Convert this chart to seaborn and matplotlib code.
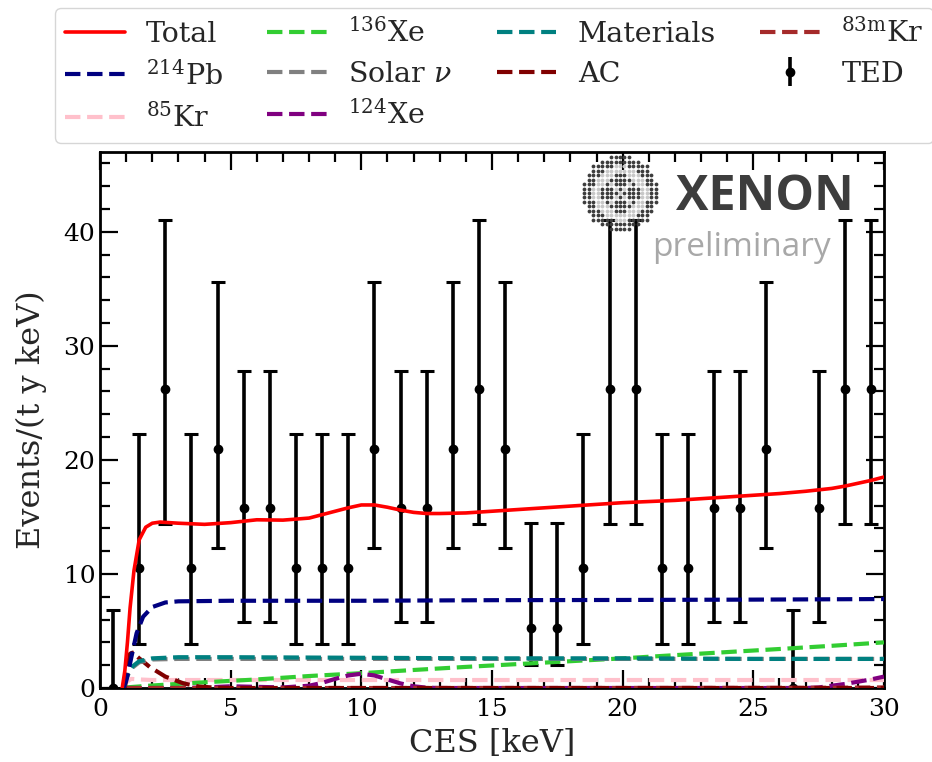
import numpy as np
import pandas as pd
import matplotlib
matplotlib.use("Agg")
import matplotlib.pyplot as plt
from matplotlib.ticker import MultipleLocator
from matplotlib.lines import Line2D
import seaborn as sns

# ---------------- data ----------------
ted_x = [0.5, 1.5, 2.5, 3.5, 4.5, 5.5, 6.5, 7.5, 8.5, 9.5,
         10.5, 11.5, 12.5, 13.5, 14.5, 15.5, 16.5, 17.5, 18.5, 19.5,
         20.5, 21.5, 22.5, 23.5, 24.5, 25.5, 26.5, 27.5, 28.5, 29.5]
ted_y = [0.0, 10.5, 26.25, 10.5, 21.0, 15.75, 15.75, 10.5, 10.5, 10.5,
         21.0, 15.75, 15.75, 21.0, 26.25, 21.0, 5.25, 5.25, 10.5, 26.25,
         26.25, 10.5, 10.5, 15.75, 15.75, 21.0, 0.0, 15.75, 26.25, 26.25]
ted_lo = [0.0, 3.9, 14.4, 3.9, 12.3, 5.8, 5.8, 3.9, 3.9, 3.9,
          12.3, 5.8, 5.8, 12.3, 14.4, 12.3, 2.0, 2.0, 3.9, 14.4,
          14.4, 3.9, 3.9, 5.8, 5.8, 12.3, 0.0, 5.8, 14.4, 14.4]
ted_hi = [6.8, 22.3, 41.0, 22.3, 35.6, 27.8, 27.8, 22.3, 22.3, 22.3,
          35.6, 27.8, 27.8, 35.6, 41.0, 35.6, 14.45, 14.45, 22.3, 41.0,
          41.0, 22.3, 22.3, 27.8, 27.8, 35.6, 6.8, 27.8, 41.0, 41.0]

total_x = [0.85, 0.95, 1.05, 1.15, 1.3, 1.5, 1.75, 2.0, 2.3, 3, 4, 5, 6, 7, 8, 9,
           9.5, 10, 10.5, 11, 11.5, 12, 12.5, 13, 14, 15, 16, 17, 18, 19, 20,
           21, 22, 23, 24, 25, 26, 27, 28, 28.5, 29, 29.5, 30]
total_y = [0.0, 1.5, 4.0, 7.0, 10.3, 13.0, 14.1, 14.45, 14.55, 14.45, 14.35, 14.5,
           14.75, 14.72, 14.9, 15.5, 15.8, 16.05, 16.05, 15.85, 15.6, 15.4, 15.3,
           15.3, 15.35, 15.5, 15.65, 15.8, 15.95, 16.1, 16.25, 16.35, 16.45, 16.6,
           16.75, 16.9, 17.05, 17.25, 17.5, 17.7, 17.95, 18.2, 18.5]

pb214_x = [0.9, 1.0, 1.1, 1.2, 1.4, 1.65, 2.0, 2.5, 3, 5, 10, 15, 20, 25, 30]
pb214_y = [0.0, 0.6, 1.6, 2.7, 4.8, 6.25, 7.1, 7.5, 7.6, 7.65, 7.65, 7.7, 7.72, 7.75, 7.8]

kr85_x = [0.9, 1.0, 1.2, 1.5, 2.0, 3, 10, 20, 30]
kr85_y = [0.0, 0.5, 0.8, 0.75, 0.7, 0.7, 0.7, 0.7, 0.7]

xe136_x = [1.0, 2, 4, 6, 8, 10, 12, 14, 16, 18, 20, 22, 24, 26, 28, 30]
xe136_y = [0.05, 0.22, 0.5, 0.75, 1.05, 1.3, 1.58, 1.85, 2.1, 2.35, 2.6, 2.88,
           3.15, 3.42, 3.7, 4.0]

solar_x = [0.9, 1.0, 1.1, 1.25, 1.5, 2.0, 3, 5, 10, 15, 20, 25, 30]
solar_y = [0.0, 0.7, 1.3, 1.8, 2.25, 2.5, 2.55, 2.55, 2.55, 2.55, 2.55, 2.55, 2.55]

xe124_x = [1, 3, 4, 5, 6, 7, 8, 8.5, 9, 9.5, 10, 10.5, 11, 11.5, 12, 12.5, 13,
           27, 27.5, 28, 28.5, 29, 29.5, 30]
xe124_y = [0.0, 0.0, 0.05, 0.15, 0.1, 0.05, 0.2, 0.45, 0.8, 1.1, 1.25, 1.1, 0.75,
           0.4, 0.15, 0.03, 0.0, 0.0, 0.05, 0.2, 0.35, 0.55, 0.75, 1.0]

mat_x = [0.9, 1.0, 1.1, 1.25, 1.5, 2.0, 3, 5, 10, 15, 20, 25, 30]
mat_y = [0.0, 0.8, 1.4, 1.9, 2.35, 2.6, 2.7, 2.7, 2.65, 2.6, 2.6, 2.55, 2.55]

ac_x = [0.95, 1.05, 1.15, 1.25, 1.5, 1.9, 2.5, 3.2, 3.8, 4.5, 5, 30]
ac_y = [0.0, 1.8, 3.0, 3.1, 2.6, 1.85, 1.0, 0.4, 0.12, 0.02, 0.0, 0.0]

kr83m_x = [1.0, 10, 20, 28, 30]
kr83m_y = [0.0, 0.0, 0.0, 0.02, 0.05]

components = [
    ("Total", total_x, total_y, "#ff0000", "-"),
    (r"$^{214}$Pb", pb214_x, pb214_y, "#000080", "--"),
    (r"$^{85}$Kr", kr85_x, kr85_y, "#ffc0cb", "--"),
    (r"$^{136}$Xe", xe136_x, xe136_y, "#32cd32", "--"),
    (r"Solar $\nu$", solar_x, solar_y, "#808080", "--"),
    (r"$^{124}$Xe", xe124_x, xe124_y, "#800080", "--"),
    ("Materials", mat_x, mat_y, "#008080", "--"),
    ("AC", ac_x, ac_y, "#800000", "--"),
    (r"$^{83\mathrm{m}}$Kr", kr83m_x, kr83m_y, "#a52a2a", "--"),
]

# ---------------- style ----------------
sns.set_style("ticks")
plt.rcParams["font.family"] = ["DejaVu Serif"]
plt.rcParams["mathtext.fontset"] = "dejavuserif"

fig = plt.figure(figsize=(9.32, 7.62), dpi=100)
W, H = 932, 762
ax = fig.add_axes([100 / W, 1 - 688 / H, 784 / W, 536 / H])

ted_err = [np.array(ted_y) - np.array(ted_lo), np.array(ted_hi) - np.array(ted_y)]
ax.errorbar(ted_x, ted_y, yerr=ted_err, fmt="o", color="black", ms=6,
            lw=2.6, capsize=5, capthick=2.2, zorder=2)

draw_order = [2, 3, 5, 8, 7, 4, 6, 1, 0]
for i in draw_order:
    lab, xs, ys, col, ls = components[i]
    df = pd.DataFrame({"x": xs, "y": ys})
    sns.lineplot(data=df, x="x", y="y", ax=ax, color=col, linestyle=ls,
                 lw=2.6 if ls == "-" else 3.0, zorder=3, legend=False)

ax.set_xlim(0, 30)
ax.set_ylim(0, 47)
ax.xaxis.set_major_locator(MultipleLocator(5))
ax.xaxis.set_minor_locator(MultipleLocator(1))
ax.yaxis.set_major_locator(MultipleLocator(10))
ax.yaxis.set_minor_locator(MultipleLocator(2))
ax.tick_params(which="both", direction="in", top=True, right=True, width=1.6,
               labelsize=18, colors="black")
ax.tick_params(which="major", length=13)
ax.tick_params(which="minor", length=7)
ax.tick_params(axis="x", which="major", pad=7)
for s in ax.spines.values():
    s.set_linewidth(2.0)
    s.set_color("black")
ax.set_xlabel("CES [keV]", fontsize=23, labelpad=5)
ax.set_ylabel("Events/(t y keV)", fontsize=23, labelpad=12)

# ---------------- legend ----------------
handles = []
for lab, xs, ys, col, ls in components:
    handles.append(Line2D([], [], color=col, linestyle=ls,
                          lw=2.6 if ls == "-" else 3.0, label=lab))
handles.append(ax.errorbar([], [], yerr=[], fmt="o", color="black", ms=6, lw=2.6,
                           capsize=5, capthick=2.2, label="TED"))
fig.legend(handles=handles, labels=[h.get_label() for h in handles], ncol=4,
           loc="upper left", bbox_to_anchor=(55 / W, 1 - 8 / H),
           borderaxespad=0.0,
           fontsize=20.5, handlelength=2.1, handletextpad=0.75,
           columnspacing=1.55, labelspacing=0.45, borderpad=0.35,
           frameon=True, fancybox=True, edgecolor="#cccccc", framealpha=0.8)

# ---------------- XENON preliminary logo ----------------
lax = fig.add_axes([(620 - 40) / W, 1 - (193 + 40) / H, 80 / W, 80 / H])
lax.set_xlim(-1.05, 1.05)
lax.set_ylim(-1.05, 1.05)
lax.axis("off")
g = np.arange(-8, 9) / 8.5
gx, gy = np.meshgrid(g, g)
gx, gy = gx.ravel(), gy.ravel()
r = np.hypot(gx, gy)
inside = r <= 1.0
light = (np.abs(r - 0.62) < 0.1) | ((np.abs(np.abs(gx) - np.abs(gy)) < 0.1) & (r < 0.62))
lax.scatter(gx[inside & ~light], gy[inside & ~light], s=7.5, color="#3d3d3d", lw=0)
lax.scatter(gx[inside & light], gy[inside & light], s=7.5, color="#c8c8c8", lw=0)

fig.text(676 / W, 1 - 197 / H, "XENON", fontsize=35, fontweight="bold",
         family="Open Sans", color="#3d3d3d", va="center", ha="left")
fig.text(652 / W, 1 - 248 / H, "preliminary", fontsize=24,
         family="Open Sans", color="#a8a8a8", va="center", ha="left")

fig.savefig("out.png", dpi=100)
